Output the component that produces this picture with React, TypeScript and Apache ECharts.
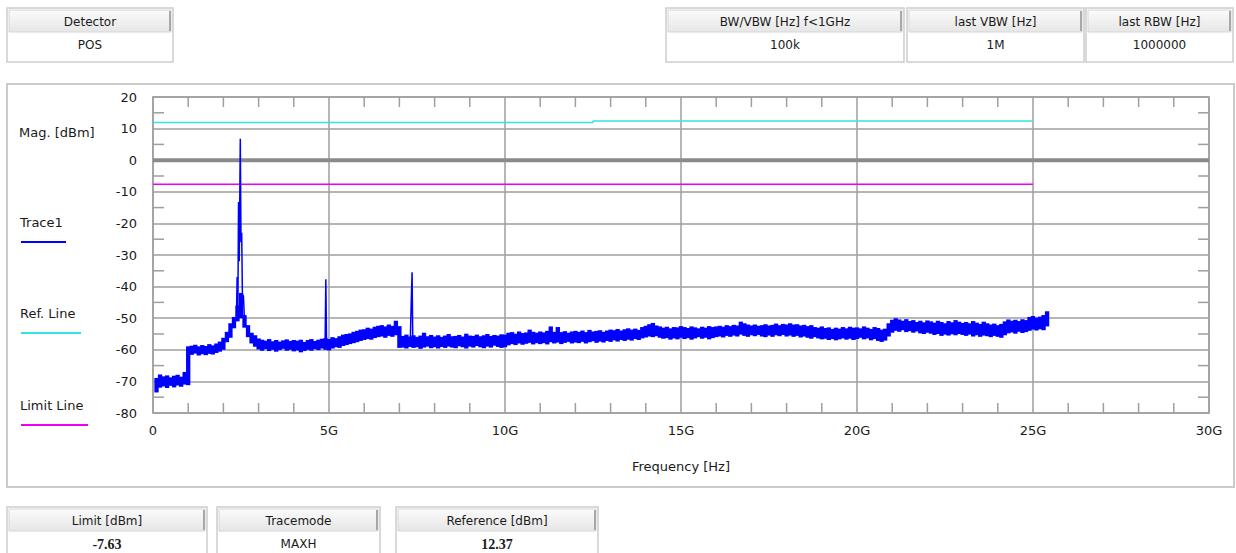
import React, { useEffect, useRef } from 'react';
import * as echarts from 'echarts';

// ---------- axis ranges ----------
const FREQ_MIN_GHZ = 0;
const FREQ_MAX_GHZ = 30;
const FREQ_TICK_GHZ = 5;
const MAG_MIN_DBM = -80;
const MAG_MAX_DBM = 20;
const MAG_TICK_DBM = 10;
const freqMinorTicksGhz = [1, 2, 3, 4, 6, 7, 8, 9, 11, 12, 13, 14, 16, 17, 18, 19, 21, 22, 23, 24, 26, 27, 28, 29];
const magMinorTicksDbm = [15, 5, -5, -15, -25, -35, -45, -55, -65, -75];

// ---------- Trace1 (MAXH), per 0.1 GHz bin starting at 0.1 GHz: max and min of each bin ----------
const TRACE_START_GHZ = 0.1;
const TRACE_STEP_GHZ = 0.1;
const trace1MaxDbm = [
  -68.9, -67.8, -68.4, -68.1, -68.7, -68.2, -67.9, -68.5, -67.0, -58.9,
  -58.7, -58.4, -58.9, -58.5, -58.8, -58.2, -58.6, -58.0, -57.4, -56.2,
  -54.3, -51.6, -49.6, -46.0, -42.0, -49.0, -52.2, -54.6, -55.4, -56.4,
  -56.8, -57.1, -56.6, -57.3, -56.9, -57.4, -57.0, -56.7, -57.2, -56.9,
  -57.1, -56.8, -57.5, -56.9, -56.6, -57.2, -56.8, -56.5, -56.3, -56.6,
  -56.0, -56.3, -55.7, -55.2, -55.0, -54.8, -54.3, -54.0, -53.6, -53.5,
  -53.0, -53.3, -52.7, -52.4, -52.2, -52.6, -52.0, -52.4, -50.8, -52.5,
  -55.6, -55.2, -55.8, -55.4, -55.9, -55.5, -54.6, -55.7, -55.3, -55.8,
  -55.4, -55.9, -55.5, -55.0, -55.7, -55.6, -55.3, -55.8, -54.9, -55.5,
  -55.6, -55.2, -55.7, -55.4, -55.0, -55.6, -55.3, -55.5, -55.1, -55.2,
  -54.6, -54.4, -54.9, -54.2, -54.7, -54.5, -53.6, -54.3, -54.6, -54.2,
  -54.5, -54.0, -52.6, -54.3, -52.8, -54.4, -54.1, -54.6, -54.2, -54.0,
  -54.3, -53.9, -54.4, -53.7, -54.2, -54.0, -53.8, -54.3, -53.9, -53.6,
  -53.8, -53.4, -53.9, -53.5, -53.2, -53.6, -53.3, -53.7, -52.8, -52.4,
  -51.9, -51.5, -52.3, -52.6, -53.0, -52.7, -53.2, -52.8, -52.9, -52.5,
  -52.8, -53.1, -52.6, -52.9, -53.2, -52.7, -53.0, -52.5, -52.8, -52.6,
  -52.4, -52.7, -52.2, -52.5, -52.1, -52.3, -51.1, -51.6, -52.0, -52.3,
  -52.0, -52.4, -52.2, -51.9, -52.3, -52.1, -51.7, -52.2, -51.8, -52.0,
  -51.6, -52.0, -51.9, -52.3, -52.1, -52.5, -52.2, -52.8, -53.0, -52.6,
  -53.1, -52.9, -53.4, -53.0, -53.3, -52.8, -53.2, -52.7, -53.0, -52.9,
  -53.2, -52.6, -53.0, -53.4, -52.8, -53.1, -53.6, -53.3, -51.6, -50.5,
  -50.0, -50.4, -50.8, -50.3, -50.9, -50.6, -51.2, -50.8, -51.3, -50.7,
  -51.0, -51.4, -50.8, -51.2, -51.6, -50.9, -51.3, -50.6, -51.1, -51.5,
  -51.2, -51.6, -50.9, -51.4, -51.8, -51.1, -51.6, -52.0, -51.7, -52.2,
  -51.8, -51.0, -50.4, -50.8, -50.5, -50.9, -50.3, -50.6, -49.6, -49.3,
  -49.8, -49.5, -49.0, -47.8,
];
const trace1MinDbm = [
  -73.5, -72.0, -71.6, -72.1, -71.4, -71.9, -71.3, -71.7, -71.0, -71.2,
  -61.6, -61.2, -61.8, -61.4, -61.7, -61.3, -61.5, -61.0, -60.6, -60.0,
  -57.6, -56.2, -53.2, -51.0, -50.0, -53.0, -56.0, -58.0, -59.0, -59.9,
  -60.3, -59.8, -60.4, -60.0, -60.6, -60.1, -59.7, -60.3, -60.0, -60.5,
  -60.2, -60.8, -60.4, -60.0, -60.3, -59.8, -60.1, -59.6, -60.0, -60.2,
  -59.6, -59.2, -59.4, -58.8, -58.5, -58.2, -57.9, -57.6, -57.2, -56.9,
  -56.6, -56.8, -56.3, -56.0, -55.8, -56.2, -55.6, -55.9, -55.4, -59.4,
  -59.3, -59.6, -59.1, -59.4, -59.2, -59.7, -59.3, -59.0, -59.5, -59.2,
  -59.6, -59.1, -59.4, -59.0, -59.3, -59.5, -58.9, -59.2, -59.6, -59.0,
  -59.3, -58.8, -59.2, -59.5, -59.0, -59.3, -58.7, -59.1, -59.4, -59.2,
  -58.6, -58.2, -58.5, -58.0, -58.4, -58.1, -57.8, -58.3, -57.9, -58.2,
  -57.9, -58.3, -57.6, -58.0, -57.7, -58.2, -57.8, -57.5, -58.0, -57.7,
  -57.9, -57.5, -58.0, -57.6, -57.3, -57.8, -57.4, -57.7, -57.2, -57.5,
  -57.0, -57.4, -56.9, -57.2, -56.8, -57.1, -56.6, -56.9, -56.4, -56.1,
  -55.8, -56.0, -55.7, -56.2, -56.5, -56.3, -56.8, -56.4, -56.7, -56.2,
  -56.6, -56.3, -56.8, -56.4, -56.0, -56.5, -56.2, -56.7, -56.3, -56.0,
  -55.8, -56.1, -55.6, -55.9, -55.5, -55.8, -55.2, -55.6, -55.9, -55.4,
  -55.7, -55.3, -55.8, -56.0, -55.5, -55.9, -55.4, -55.7, -55.3, -55.8,
  -55.5, -55.9, -55.6, -56.1, -55.8, -56.2, -56.5, -56.0, -56.4, -56.7,
  -56.5, -56.9, -56.6, -57.0, -56.7, -56.4, -56.8, -56.5, -56.9, -56.6,
  -56.2, -56.7, -56.4, -57.0, -56.6, -57.2, -57.5, -57.1, -55.8, -54.6,
  -54.0, -54.3, -53.8, -54.4, -54.1, -54.6, -54.2, -54.8, -55.0, -54.6,
  -54.9, -55.3, -55.0, -55.6, -55.2, -55.5, -55.1, -55.4, -55.0, -55.3,
  -55.6, -55.2, -55.8, -55.4, -55.9, -55.5, -55.7, -56.0, -55.6, -55.9,
  -56.2, -55.4, -54.8, -54.5, -54.9, -54.3, -54.7, -54.4, -54.0, -53.6,
  -53.9, -53.5, -53.8, -52.6,
];

// ---------- narrow spurs of Trace1 ([GHz, dBm]) ----------
const spur2G4 = [
  [2.37, -50.5], [2.39, -37.0], [2.41, -49.5], [2.43, -13.2], [2.45, -32.0],
  [2.48, 6.8], [2.50, -26.0], [2.52, -23.0], [2.54, -42.5], [2.57, -43.0], [2.60, -51.0],
];
const spur4G9 = [[4.89, -57.5], [4.91, -37.7], [4.93, -57.5]];
const spur7G35 = [[7.31, -57.0], [7.33, -47.5], [7.35, -47.5], [7.36, -35.5], [7.38, -57.0]];

// ---------- reference / limit / zero lines ----------
const refLineFreq = [0, 12.5, 12.5, 25];
const refLineDbm = [11.9, 11.9, 12.37, 12.37];
const limitLineFreq = [0, 25];
const limitLineDbm = [-7.63, -7.63];
const zeroLineFreq = [0, 30];
const zeroLineDbm = [0, 0];

// ---------- info boxes ----------
const topLeftHeaders = ['Detector'];
const topLeftValues = ['POS'];
const topRightHeaders = ['BW/VBW [Hz] f<1GHz', 'last VBW [Hz]', 'last RBW [Hz]'];
const topRightValues = ['100k', '1M', '1000000'];
const bottomHeaders = ['Limit [dBm]', 'Tracemode', 'Reference [dBm]'];
const bottomValues = ['-7.63', 'MAXH', '12.37'];

const legendLabels = ['Trace1', 'Ref. Line', 'Limit Line'];

const TRACE_COLOR = '#0000ff';
const REF_COLOR = '#33e3e3';
const LIMIT_COLOR = '#f000f0';
const GRID_COLOR = '#9e9e9e';
const TEXT_COLOR = '#1a1a1a';
const FONT = '"DejaVu Sans", sans-serif';

function pairs(xs: number[], ys: number[]) {
  return xs.map((x, i) => [x, ys[i]]);
}

function makeBox(x: number, y: number, w: number, header: string, value: string, serifValue: boolean) {
  const h = 54;
  const els: any[] = [
    { type: 'rect', shape: { x, y, width: w, height: h }, style: { fill: '#ffffff', stroke: '#cdcdcd', lineWidth: 1.5 } },
    {
      type: 'rect',
      shape: { x: x + 2, y: y + 2, width: w - 4, height: 22 },
      style: {
        fill: new echarts.graphic.LinearGradient(0, 0, 0, 1, [
          { offset: 0, color: '#fbfbfb' },
          { offset: 1, color: '#e6e6e6' },
        ]),
        stroke: '#d6d6d6',
        lineWidth: 1,
      },
    },
    { type: 'line', shape: { x1: x + w - 3, y1: y + 3, x2: x + w - 3, y2: y + 23 }, style: { stroke: '#a8a8a8', lineWidth: 2 } },
    {
      type: 'text',
      style: {
        x: x + w / 2, y: y + 14, text: header, fill: TEXT_COLOR,
        font: `12px ${FONT}`, align: 'center', verticalAlign: 'middle', textAlign: 'center', textVerticalAlign: 'middle',
      },
    },
    {
      type: 'text',
      style: {
        x: x + w / 2, y: y + 37, text: value, fill: TEXT_COLOR,
        font: serifValue ? 'bold 14px "Liberation Serif", serif' : `12px ${FONT}`,
        align: 'center', verticalAlign: 'middle', textAlign: 'center', textVerticalAlign: 'middle',
      },
    },
  ];
  return els;
}

function label(x: number, y: number, text: string) {
  return {
    type: 'text',
    style: { x, y, text, fill: TEXT_COLOR, font: `13px ${FONT}`, align: 'left', verticalAlign: 'middle', textAlign: 'left', textVerticalAlign: 'middle' },
  };
}

function legendLine(x1: number, x2: number, y: number, color: string) {
  return { type: 'line', shape: { x1, y1: y, x2, y2: y }, style: { stroke: color, lineWidth: 2 } };
}

function buildOption() {
  const traceBins = trace1MaxDbm.map((hi, i) => [
    +(TRACE_START_GHZ + i * TRACE_STEP_GHZ).toFixed(2),
    trace1MinDbm[i],
    hi,
  ]);

  const graphics: any[] = [];
  graphics.push({ type: 'rect', shape: { x: 7, y: 84, width: 1227, height: 403 }, style: { fill: 'none', stroke: '#cbcbcb', lineWidth: 2 } });
  graphics.push(...makeBox(7, 8, 166, topLeftHeaders[0], topLeftValues[0], false));
  const trX = [666, 907, 1086];
  const trW = [238, 177, 147];
  topRightHeaders.forEach((h, i) => graphics.push(...makeBox(trX[i], 8, trW[i], h, topRightValues[i], false)));
  const bX = [7, 217, 396];
  const bW = [200, 163, 202];
  bottomHeaders.forEach((h, i) => graphics.push(...makeBox(bX[i], 507, bW[i], h, bottomValues[i], i !== 1)));
  graphics.push(label(19, 132, 'Mag. [dBm]'));
  graphics.push(label(20, 222, legendLabels[0]));
  graphics.push(legendLine(21, 66, 242, TRACE_COLOR));
  graphics.push(label(20, 313, legendLabels[1]));
  graphics.push(legendLine(21, 81, 333, REF_COLOR));
  graphics.push(label(20, 405, legendLabels[2]));
  graphics.push(legendLine(21, 88, 425, LIMIT_COLOR));

  const axisLine = { show: true, onZero: false, lineStyle: { color: GRID_COLOR, width: 1.5 } };
  const axisLabelStyle = { color: TEXT_COLOR, fontFamily: FONT, fontSize: 13 };
  const xBase = { type: 'value', min: FREQ_MIN_GHZ, max: FREQ_MAX_GHZ, interval: FREQ_TICK_GHZ };
  const yBase = { type: 'value', min: MAG_MIN_DBM, max: MAG_MAX_DBM, interval: MAG_TICK_DBM };

  const lineSeries = (data: any[], color: string, width: number, z: number) => ({
    type: 'line',
    data,
    showSymbol: false,
    symbol: 'none',
    silent: true,
    z,
    lineStyle: { color, width },
    itemStyle: { color },
  });

  const tickStyle = { stroke: GRID_COLOR, lineWidth: 1.5 };

  return {
    animation: false,
    backgroundColor: '#ffffff',
    grid: { left: 153, top: 97, width: 1056, height: 316, containLabel: false, outerBoundsMode: 'none' },
    xAxis: [
      {
        ...xBase, position: 'bottom',
        axisLine, axisTick: { show: false },
        splitLine: { show: true, lineStyle: { color: GRID_COLOR, width: 1.5 } },
        axisLabel: { ...axisLabelStyle, margin: 11, formatter: (v: number) => (v === 0 ? '0' : `${v}G`) },
        name: 'Frequency [Hz]', nameLocation: 'middle', nameGap: 47,
        nameTextStyle: { ...axisLabelStyle },
      },
      {
        ...xBase, position: 'top',
        axisLine, axisTick: { show: false }, splitLine: { show: false }, axisLabel: { show: false },
      },
    ],
    yAxis: [
      {
        ...yBase, position: 'left',
        axisLine, axisTick: { show: false },
        splitLine: { show: true, lineStyle: { color: GRID_COLOR, width: 1.5 } },
        axisLabel: { ...axisLabelStyle, margin: 16 },
      },
      {
        ...yBase, position: 'right',
        axisLine, axisTick: { show: false }, splitLine: { show: false }, axisLabel: { show: false },
      },
    ],
    series: [
      // minor frequency ticks (bottom and top edges)
      {
        type: 'custom',
        silent: true,
        z: 1,
        data: freqMinorTicksGhz.map((f) => [f, MAG_MIN_DBM]),
        encode: { x: 0, y: 1 },
        renderItem: (params: any, api: any) => {
          const f = api.value(0);
          const pb = api.coord([f, MAG_MIN_DBM]);
          const pt = api.coord([f, MAG_MAX_DBM]);
          return {
            type: 'group',
            children: [
              { type: 'line', shape: { x1: pb[0], y1: pb[1], x2: pb[0], y2: pb[1] - 10 }, style: tickStyle },
              { type: 'line', shape: { x1: pt[0], y1: pt[1], x2: pt[0], y2: pt[1] + 10 }, style: tickStyle },
            ],
          };
        },
      },
      // minor magnitude ticks (left and right edges)
      {
        type: 'custom',
        silent: true,
        z: 1,
        data: magMinorTicksDbm.map((m) => [FREQ_MIN_GHZ, m]),
        encode: { x: 0, y: 1 },
        renderItem: (params: any, api: any) => {
          const m = api.value(1);
          const pl = api.coord([FREQ_MIN_GHZ, m]);
          const pr = api.coord([FREQ_MAX_GHZ, m]);
          return {
            type: 'group',
            children: [
              { type: 'line', shape: { x1: pl[0], y1: pl[1], x2: pl[0] + 11, y2: pl[1] }, style: tickStyle },
              { type: 'line', shape: { x1: pr[0], y1: pr[1], x2: pr[0] - 11, y2: pr[1] }, style: tickStyle },
            ],
          };
        },
      },
      lineSeries(pairs(zeroLineFreq, zeroLineDbm), '#8a8a8a', 4, 2),
      lineSeries(pairs(refLineFreq, refLineDbm), REF_COLOR, 1.5, 3),
      lineSeries(pairs(limitLineFreq, limitLineDbm), LIMIT_COLOR, 1.5, 3),
      // Trace1 noise band: one min..max bar per frequency bin
      {
        type: 'custom',
        silent: true,
        z: 4,
        data: traceBins,
        encode: { x: 0, y: [1, 2] },
        renderItem: (params: any, api: any) => {
          const f = api.value(0);
          const lo = api.value(1);
          const hi = api.value(2);
          const a = api.coord([f - TRACE_STEP_GHZ / 2, hi]);
          const b = api.coord([f + TRACE_STEP_GHZ / 2, lo]);
          return {
            type: 'rect',
            shape: { x: a[0] - 0.4, y: a[1], width: b[0] - a[0] + 0.8, height: Math.max(b[1] - a[1], 1.5) },
            style: { fill: TRACE_COLOR },
          };
        },
      },
      lineSeries(spur2G4, TRACE_COLOR, 1.5, 5),
      lineSeries(spur4G9, TRACE_COLOR, 1.5, 5),
      lineSeries(spur7G35, TRACE_COLOR, 1.5, 5),
    ],
    graphic: { elements: graphics },
  };
}

export default function App() {
  const ref = useRef<HTMLDivElement>(null);
  useEffect(() => {
    if (!ref.current) return;
    const chart = echarts.init(ref.current, null, { renderer: 'svg' });
    chart.setOption(buildOption() as any);
    return () => chart.dispose();
  }, []);
  return (
    <div
      ref={ref}
      style={{ position: 'fixed', left: 0, top: 0, width: 1236, height: 553, background: '#ffffff' }}
    />
  );
}
